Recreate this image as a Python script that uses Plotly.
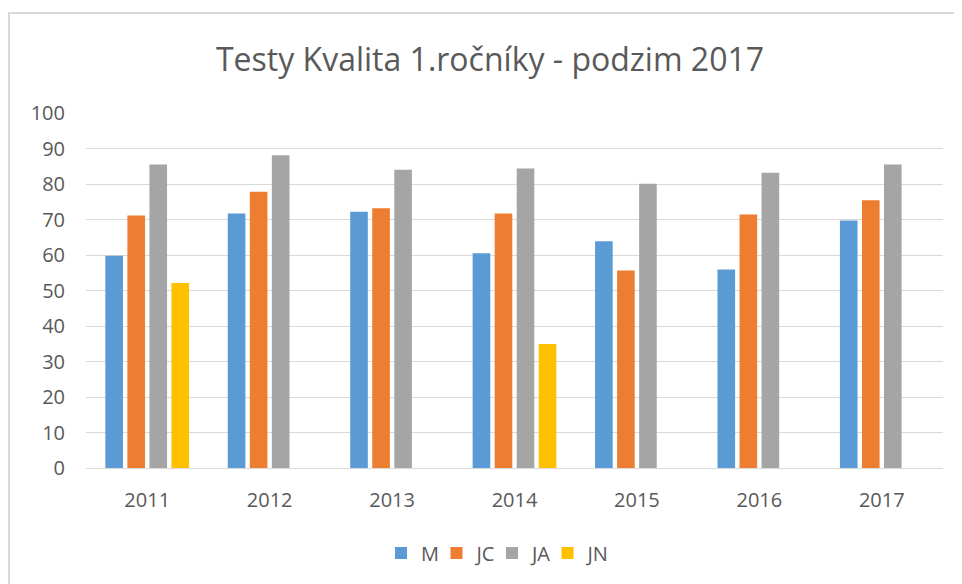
import plotly.graph_objects as go

years = ["2011", "2012", "2013", "2014", "2015", "2016", "2017"]
m_vals = [59.8, 71.7, 72.2, 60.5, 63.9, 55.9, 69.7]
jc_vals = [71.1, 77.8, 73.2, 71.7, 55.6, 71.4, 75.4]
ja_vals = [85.5, 88.1, 84.0, 84.4, 80.1, 83.2, 85.5]
jn_vals = [52.1, None, None, 34.9, None, None, None]

series_names = ["M", "JC", "JA", "JN"]
series_colors = ["#5B9BD5", "#ED7D31", "#A5A5A5", "#FFC000"]
series_data = [m_vals, jc_vals, ja_vals, jn_vals]

# page has an 8px body margin; figure sized to compensate
OFF = 8
W, H = 954, 576
ml, mr, mt, mb = 78, 19, 105, 116

fig = go.Figure()
for name, color, vals in zip(series_names, series_colors, series_data):
    fig.add_trace(go.Bar(x=years, y=vals, name=name,
                         marker=dict(color=color, line=dict(width=0))))
# invisible spacer legend entry so the last label is not clipped
fig.add_trace(go.Scatter(x=[None], y=[None], name=" ", mode="markers",
                         marker=dict(color="rgba(0,0,0,0)"), hoverinfo="skip"))

pw = W - ml - mr
ph = H - mt - mb
x0 = (9 - OFF - ml) / pw
x1 = (W + 20 - ml) / pw
y1 = (H - mb - (13 - OFF)) / ph
y0 = (H - mb - (H + 20)) / ph

fig.update_layout(
    width=W, height=H,
    margin=dict(l=ml, r=mr, t=mt, b=mb),
    paper_bgcolor="white", plot_bgcolor="white",
    font=dict(family="Open Sans, Liberation Sans, sans-serif", color="#595959", size=20),
    title=dict(text="Testy Kvalita 1.ročníky - podzim 2017", x=482 / W, xanchor="center",
               y=1 - 52 / H, yanchor="middle",
               font=dict(size=32, color="#595959")),
    barmode="group", bargap=0.28, bargroupgap=0.2,
    showlegend=True,
    legend=dict(orientation="h", x=(387 - OFF - 6 - ml) / pw, xanchor="left",
                y=(H - mb - 545) / ph, yanchor="middle",
                font=dict(size=20, color="#595959"), itemwidth=30, traceorder="normal",
                entrywidth=10.5, entrywidthmode="pixels"),
    xaxis=dict(showgrid=False, showline=True, linecolor="#d9d9d9", linewidth=1,
               ticks="", ticklabelstandoff=14, tickfont=dict(size=20)),
    yaxis=dict(range=[0, 100], dtick=10, showgrid=True, gridcolor="#d9d9d9", gridwidth=1,
               zeroline=False, showline=False, ticks="", ticklabelstandoff=20,
               tickfont=dict(size=20)),
    shapes=[dict(type="rect", xref="paper", yref="paper", x0=x0, x1=x1, y0=y0, y1=y1,
                 line=dict(color="#d9d9d9", width=2), fillcolor="rgba(0,0,0,0)", layer="below")],
)

fig.write_html("out.html")
